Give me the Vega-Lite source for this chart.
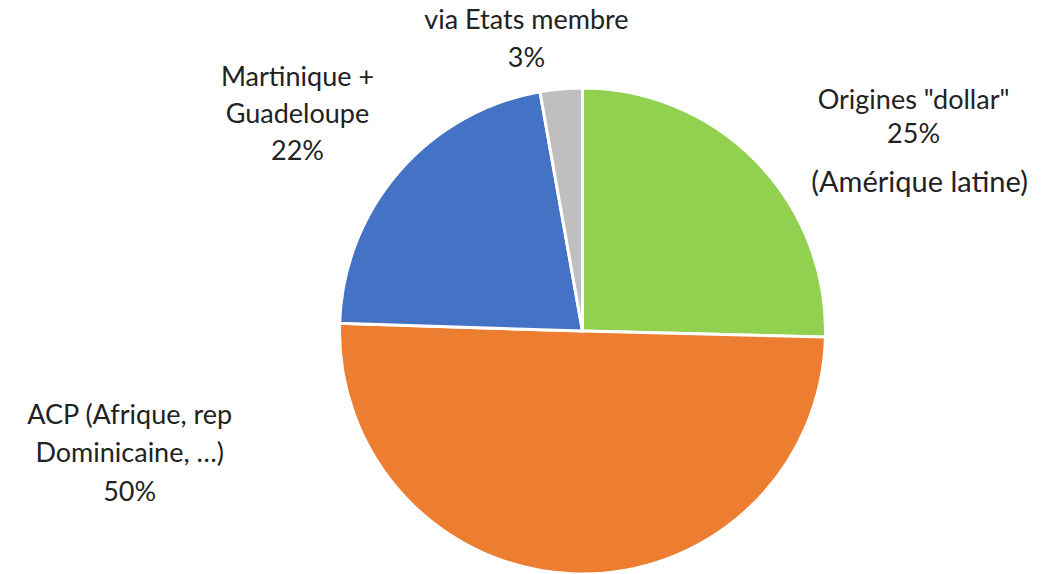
{
  "$schema": "https://vega.github.io/schema/vega-lite/v6.json",
  "autosize": {"type": "none"},
  "padding": {"left": 339.5, "top": 88, "right": 238.5, "bottom": 0},
  "width": 486,
  "height": 486,
  "background": "white",
  "config": {"view": {"stroke": null}},
  "data": {
    "values": [
      {"cat": "Origines \"dollar\"", "ord": 1, "value": 25.4, "label": "Origines \"dollar\"\n25%", "extra": "(Amérique latine)"},
      {"cat": "ACP", "ord": 2, "value": 50.1, "label": "ACP (Afrique, rep\nDominicaine, …)\n50%", "extra": ""},
      {"cat": "Martinique + Guadeloupe", "ord": 3, "value": 21.7, "label": "Martinique +\nGuadeloupe\n22%", "extra": ""},
      {"cat": "via Etats membre", "ord": 4, "value": 2.8, "label": "via Etats membre\n3%", "extra": ""}
    ]
  },
  "encoding": {
    "theta": {"field": "value", "type": "quantitative", "stack": true},
    "order": {"field": "ord", "type": "quantitative"}
  },
  "layer": [
    {
      "mark": {"type": "arc", "stroke": "white", "strokeWidth": 3},
      "encoding": {
        "color": {
          "field": "cat", "type": "nominal", "legend": null,
          "scale": {
            "domain": ["Origines \"dollar\"", "ACP", "Martinique + Guadeloupe", "via Etats membre"],
            "range": ["#92D050", "#ED7D31", "#4472C4", "#BFBFBF"]
          }
        }
      }
    },
    {
      "mark": {"type": "text", "radius": 387, "dx": 54, "dy": 40, "font": "Lato", "fontSize": 27, "lineHeight": 34, "lineBreak": "\n", "align": "center", "baseline": "middle", "color": "#222222"},
      "encoding": {"text": {"condition": {"test": "datum.ord === 1", "field": "label"}, "value": ""}}
    },
    {
      "mark": {"type": "text", "radius": 387, "dx": 60, "dy": 122, "font": "Lato", "fontSize": 29, "align": "center", "baseline": "middle", "color": "#222222"},
      "encoding": {"text": {"condition": {"test": "datum.ord === 1", "field": "extra"}, "value": ""}}
    },
    {
      "mark": {"type": "text", "radius": 135, "dx": -449, "dy": -50, "font": "Lato", "fontSize": 27, "lineHeight": 38.5, "lineBreak": "\n", "align": "center", "baseline": "middle", "color": "#222222"},
      "encoding": {"text": {"condition": {"test": "datum.ord === 2", "field": "label"}, "value": ""}}
    },
    {
      "mark": {"type": "text", "radius": 357, "dx": -15, "dy": -19, "font": "Lato", "fontSize": 27, "lineHeight": 37, "lineBreak": "\n", "align": "center", "baseline": "middle", "color": "#222222"},
      "encoding": {"text": {"condition": {"test": "datum.ord === 3", "field": "label"}, "value": ""}}
    },
    {
      "mark": {"type": "text", "radius": 296, "dx": -30, "dy": -15, "font": "Lato", "fontSize": 27, "lineHeight": 38, "lineBreak": "\n", "align": "center", "baseline": "middle", "color": "#222222"},
      "encoding": {"text": {"condition": {"test": "datum.ord === 4", "field": "label"}, "value": ""}}
    }
  ]
}
